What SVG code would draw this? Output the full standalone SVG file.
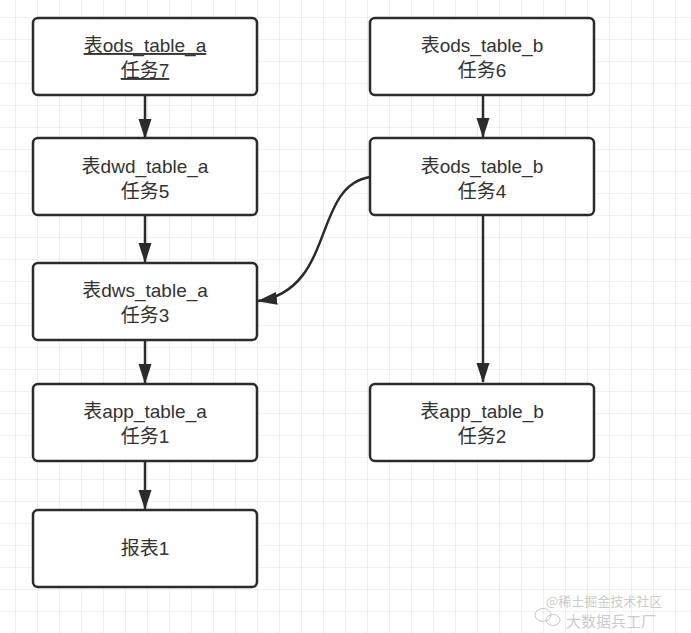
<svg xmlns="http://www.w3.org/2000/svg" width="691" height="633" viewBox="0 0 691 633">
<defs>
<pattern id="grid" x="15" y="17" width="22" height="22" patternUnits="userSpaceOnUse">
<path d="M0 0H22M0 0V22" fill="none" stroke="#e3e3e3" stroke-width="1.2"/>
</pattern>
<marker id="arr" viewBox="0 0 20 14" refX="19" refY="7" markerWidth="20" markerHeight="14" markerUnits="userSpaceOnUse" orient="auto">
<path d="M0 0.5 L20 7 L0 13.5 Z" fill="#2b2b2b"/>
</marker>
<style>
.box{fill:#fff;stroke:#2b2b2b;stroke-width:2.5}
.t{font-family:"Liberation Sans","Noto Sans CJK SC",sans-serif;font-size:19px;fill:#333;text-anchor:middle}
.e{fill:none;stroke:#2b2b2b;stroke-width:2.5}
.wm{font-family:"Noto Sans CJK SC",sans-serif;fill:#bdbdbd;fill-opacity:0.8}
</style>
</defs>
<rect width="691" height="633" fill="#fff"/>
<rect width="691" height="633" fill="url(#grid)"/>

<g id="connectors">
<path class="e" d="M145 95 V138" marker-end="url(#arr)"/>
<path class="e" d="M145 215 V262" marker-end="url(#arr)"/>
<path class="e" d="M145 340 V383" marker-end="url(#arr)"/>
<path class="e" d="M145 461 V509" marker-end="url(#arr)"/>
<path class="e" d="M483 95 V137" marker-end="url(#arr)"/>
<path class="e" d="M483 215 V382" marker-end="url(#arr)"/>
<path class="e" d="M370 177 C312 186 336 290 258 301" marker-end="url(#arr)"/>
</g>

<g id="node-ods-a">
<rect class="box" x="33" y="18" width="224" height="77" rx="5"/>
<text class="t" x="145" y="52" text-decoration="underline">表ods_table_a</text>
<text class="t" x="145" y="77" text-decoration="underline">任务7</text>
</g>
<g id="node-dwd-a">
<rect class="box" x="33" y="138" width="224" height="77" rx="5"/>
<text class="t" x="145" y="173">表dwd_table_a</text>
<text class="t" x="145" y="198">任务5</text>
</g>
<g id="node-dws-a">
<rect class="box" x="33" y="263" width="224" height="77" rx="5"/>
<text class="t" x="145" y="297">表dws_table_a</text>
<text class="t" x="145" y="322">任务3</text>
</g>
<g id="node-app-a">
<rect class="box" x="33" y="384" width="224" height="77" rx="5"/>
<text class="t" x="145" y="418">表app_table_a</text>
<text class="t" x="145" y="443">任务1</text>
</g>
<g id="node-report">
<rect class="box" x="33" y="510" width="224" height="77" rx="5"/>
<text class="t" x="145" y="555">报表1</text>
</g>
<g id="node-ods-b6">
<rect class="box" x="370" y="18" width="224" height="77" rx="5"/>
<text class="t" x="482" y="52">表ods_table_b</text>
<text class="t" x="482" y="77">任务6</text>
</g>
<g id="node-ods-b4">
<rect class="box" x="370" y="138" width="224" height="77" rx="5"/>
<text class="t" x="482" y="173">表ods_table_b</text>
<text class="t" x="482" y="198">任务4</text>
</g>
<g id="node-app-b">
<rect class="box" x="370" y="384" width="224" height="77" rx="5"/>
<text class="t" x="482" y="418">表app_table_b</text>
<text class="t" x="482" y="443">任务2</text>
</g>

<g id="watermark">
<ellipse cx="543" cy="615" rx="8" ry="6.5" fill="none" stroke="#c8c8c8" stroke-width="1"/>
<ellipse cx="553" cy="620" rx="7" ry="5.5" fill="none" stroke="#c8c8c8" stroke-width="1"/>
<text class="wm" x="546" y="606" font-size="13">@稀土掘金技术社区</text>
<text class="wm" x="566" y="627" font-size="15">大数据兵工厂</text>
</g>
</svg>
